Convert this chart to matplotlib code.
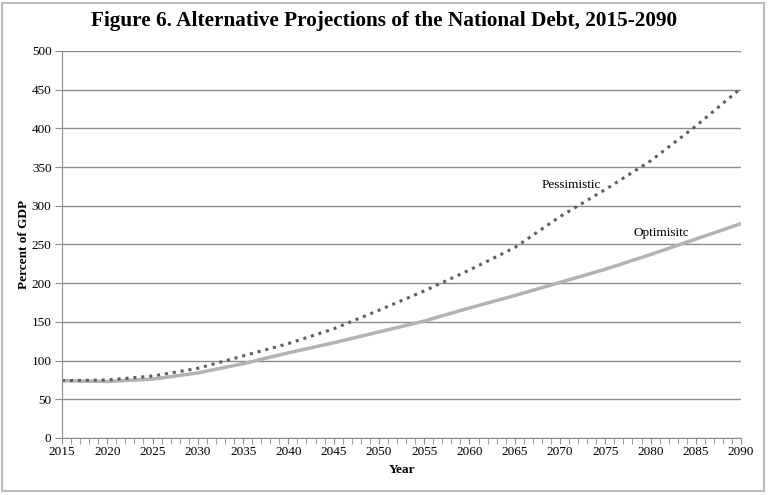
import matplotlib
matplotlib.use("Agg")
import matplotlib.pyplot as plt
from matplotlib.patches import Rectangle
from matplotlib.ticker import MultipleLocator

plt.rcParams['font.family'] = ['Liberation Serif', 'DejaVu Serif']

years = [2015, 2020, 2025, 2030, 2035, 2040, 2045, 2050, 2055,
         2060, 2065, 2070, 2075, 2080, 2085, 2090]
optimistic = [74, 73, 76, 84, 96, 110, 123, 137, 151,
              168, 184, 201, 218, 237, 257, 277]
pessimistic = [74, 75, 80, 90, 106, 122, 141, 165, 190,
               217, 246, 286, 321, 358, 403, 452]

fig = plt.figure(figsize=(7.68, 4.95), dpi=100)
ax = fig.add_axes([0.0807, 0.1152, 0.8843, 0.7818])

# outer chart border
fig.patches.append(Rectangle((0.003, 0.008), 0.992, 0.986, transform=fig.transFigure,
                             fill=False, edgecolor='#bdbdbd', linewidth=1.5))

ax.plot(years, optimistic, color='#b3b3b3', linewidth=2.5, solid_capstyle='round')
ax.plot(years, pessimistic, color='#5f5f5f', linewidth=2.2, linestyle=(0, (1, 1.6)))

ax.text(2071.3, 327, 'Pessimistic', ha='center', va='center', fontsize=9.5)
ax.text(2081.2, 265, 'Optimisitc', ha='center', va='center', fontsize=9.5)

ax.set_xlim(2015, 2090)
ax.set_ylim(0, 500)
ax.xaxis.set_major_locator(MultipleLocator(5))
ax.xaxis.set_minor_locator(MultipleLocator(1))
ax.yaxis.set_major_locator(MultipleLocator(50))

ax.grid(axis='y', color='#8c8c8c', linewidth=1)
ax.set_axisbelow(True)
for s in ['top', 'right']:
    ax.spines[s].set_visible(False)
for s in ['left', 'bottom']:
    ax.spines[s].set_color('#8c8c8c')

ax.tick_params(axis='y', which='major', direction='out', length=5, color='#8c8c8c',
               labelsize=9.5, pad=2.5)
ax.tick_params(axis='x', which='both', direction='out', length=4, color='#8c8c8c',
               labelsize=9.5, pad=2)

ax.set_xlabel('Year', fontsize=9.5, fontweight='bold', labelpad=4)
ax.set_ylabel('Percent of GDP', fontsize=9.5, fontweight='bold', labelpad=1)

fig.suptitle('Figure 6. Alternative Projections of the National Debt, 2015-2090',
             x=0.5, y=0.977, fontsize=15.3, fontweight='bold')

fig.savefig('out.png', dpi=100)
